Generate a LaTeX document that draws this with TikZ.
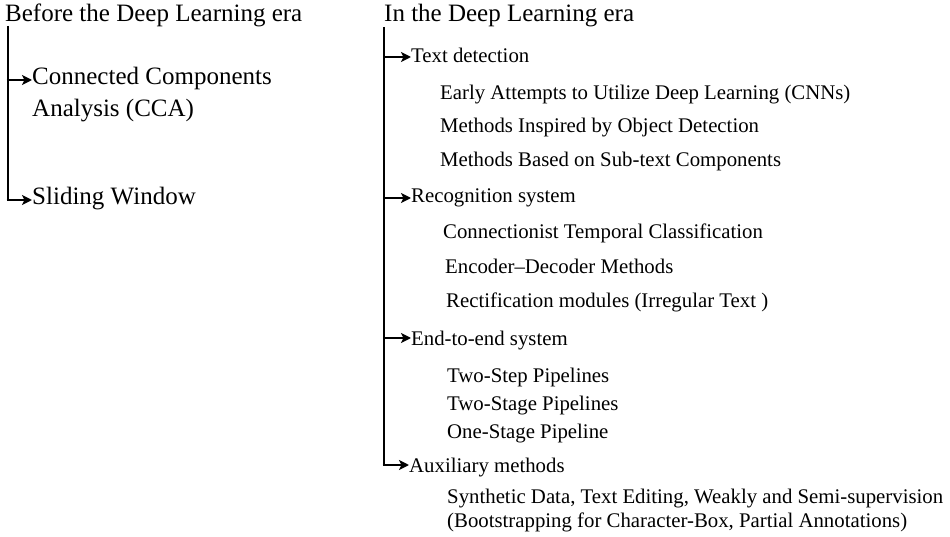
\documentclass[tikz,border=0pt]{standalone}
\usepackage{fontspec}
\setmainfont{Liberation Serif}
\usetikzlibrary{arrows.meta}
\begin{document}
\begin{tikzpicture}[x=1pt,y=-1pt,
  big/.style={anchor=base west,inner sep=0pt,font=\fontsize{25}{30}\selectfont},
  small/.style={anchor=base west,inner sep=0pt,font=\fontsize{20.8}{25}\selectfont},
  trunk/.style={line width=2.6pt},
  arr/.style={line width=2.3pt,-{Stealth[length=10pt,width=10pt,inset=2.5pt]},shorten >=0pt}]
\useasboundingbox[fill=white] (0,0) rectangle (950,537);
% left column
\node[big] (hL) at (5,22) {Before the Deep Learning era};
\node[big] (cca1) at (32,85) {Connected Components};
\node[big] (cca2) at (32,117) {Analysis (CCA)};
\node[big] (sw) at (32,205) {Sliding Window};
\coordinate (tL) at (8,26);
\draw[trunk] (tL) -- (tL |- 0,201);
\draw[arr] ([xshift=-1.3pt]tL |- 0,80) -- (cca1.west |- 0,80);
\draw[arr] ([xshift=-1.3pt]tL |- 0,200) -- (sw.west |- 0,200);
% right column
\node[big] (hR) at (384,22) {In the Deep Learning era};
\node[small] (td) at (411,63) {Text detection};
\node[small] (td1) at (440,100) {Early Attempts to Utilize Deep Learning (CNNs)};
\node[small] (td2) at (440,133) {Methods Inspired by Object Detection};
\node[small] (td3) at (440,167) {Methods Based on Sub-text Components};
\node[small] (rs) at (411,203) {Recognition system};
\node[small] (rs1) at (443,239) {Connectionist Temporal Classification};
\node[small] (rs2) at (445,273) {Encoder--Decoder Methods};
\node[small] (rs3) at (446,307) {Rectification modules (Irregular Text )};
\node[small] (ee) at (411,345) {End-to-end system};
\node[small] (ee1) at (447,382) {Two-Step Pipelines};
\node[small] (ee2) at (447,410) {Two-Stage Pipelines};
\node[small] (ee3) at (447,438) {One-Stage Pipeline};
\node[small] (ax) at (409,472) {Auxiliary methods};
\node[small] (ax1) at (447,503) {Synthetic Data, Text Editing, Weakly and Semi-supervision};
\node[small] (ax2) at (447,527) {(Bootstrapping for Character-Box, Partial Annotations)};
\coordinate (tR) at (384,27);
\draw[trunk] (tR) -- (tR |- 0,466);
\draw[arr] (tR |- 0,57) -- (td.west |- 0,57);
\draw[arr] (tR |- 0,198) -- (rs.west |- 0,198);
\draw[arr] (tR |- 0,338) -- (ee.west |- 0,338);
\draw[arr] ([xshift=-1.3pt]tR |- 0,465) -- (ax.west |- 0,465);
\end{tikzpicture}
\end{document}
